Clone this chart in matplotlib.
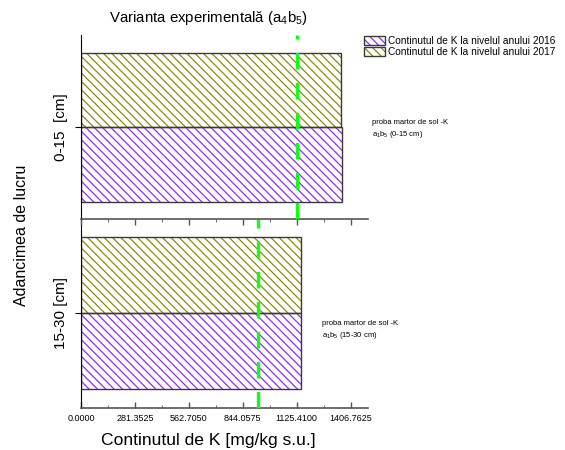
import numpy as np
import matplotlib
matplotlib.use("Agg")
import matplotlib.pyplot as plt
from matplotlib.patches import Patch
from matplotlib.legend_handler import HandlerTuple

plt.rcParams['font.family'] = ['Liberation Sans', 'DejaVu Sans']
plt.rcParams['mathtext.fontset'] = 'custom'
plt.rcParams['mathtext.rm'] = 'Liberation Sans'
plt.rcParams['mathtext.it'] = 'Liberation Sans'
plt.rcParams['hatch.linewidth'] = 0.9

# data
depths = ["0-15  [cm]", "15-30 [cm]"]
k_2016 = [1360, 1150]
k_2017 = [1355, 1148]
martor = [1127, 923]
martor_txt = ["proba martor de sol -K\n$\\mathregular{a_1b_5}$ (0-15 cm)",
              "proba martor de sol -K\n$\\mathregular{a_1b_5}$ (15-30 cm)"]
series_names = ["Continutul de K la nivelul anului 2016",
                "Continutul de K la nivelul anului 2017"]
xticks = [0.0, 281.3525, 562.7050, 844.0575, 1125.4100, 1406.7625]

purple = '#8f2cff'
olive = '#8a8a0a'
green = '#11ff11'
edge = '#3a3a3a'

fig = plt.figure(figsize=(5.65, 4.5), dpi=100)
W, H = 565, 450
left, right = 81 / W, 368 / W
ax_top = fig.add_axes([left, (H - 219) / H, right - left, (219 - 35) / H])
ax_bot = fig.add_axes([left, (H - 408) / H, right - left, (408 - 219) / H])
ax_top.set_zorder(3)
ax_top.patch.set_visible(False)

ylims = [(-1.227, 1.24), (-1.25, 1.237)]


def hbar(ax, val, y0, color):
    ax.barh(y0, val, height=1.0, align='edge', left=0, color='none',
            edgecolor=color, hatch='\\\\\\\\', linewidth=0)
    ax.barh(y0, val, height=1.0, align='edge', left=0, fill=False,
            edgecolor=edge, linewidth=1.0)


for i, ax in enumerate([ax_top, ax_bot]):
    hbar(ax, k_2017[i], 0, olive)
    hbar(ax, k_2016[i], -1, purple)
    ax.axvline(martor[i], color=green, lw=2.4, dashes=(5, 4), zorder=5)
    ax.set_yticks([0])
    ax.set_yticklabels([depths[i]], rotation=90, va='center', fontsize=11)
    ax.set_xticks(xticks)
    ax.set_xticks([x + 140.67625 for x in xticks[:-1]], minor=True)
    ax.set_xlim(0, 1497)
    ax.set_ylim(*ylims[i])
    for s in ['top', 'right']:
        ax.spines[s].set_visible(False)
    ax.spines['left'].set_color('black')
    ax.spines['bottom'].set_color('#555555')
    ax.spines['bottom'].set_linewidth(1.2)
    ax.tick_params(axis='y', direction='out', length=4, pad=5)
    ax.tick_params(axis='x', direction='in', length=4, width=1, colors='#555555', labelcolor='black')
    ax.tick_params(axis='x', which='minor', direction='in', length=2, colors='#555555')

ax_top.tick_params(axis='x', direction='out', labelbottom=False)
ax_top.tick_params(axis='x', which='minor', direction='out')
ax_bot.set_xticklabels(['%.4f' % x for x in xticks], fontsize=6.5)
ax_bot.tick_params(axis='x', pad=4)

# annotations
fig.text(372 / W, 1 - 119 / H, martor_txt[0], fontsize=5.5, va='top', ha='left', linespacing=1.4)
fig.text(322 / W, 1 - 320 / H, martor_txt[1], fontsize=5.5, va='top', ha='left', linespacing=1.4)

fig.text(209 / W, 1 - 18 / H, "Varianta experimentală ($\\mathregular{a_4b_5}$)",
         ha='center', va='center', fontsize=10.8)
fig.text(22 / W, 1 - 235 / H, "Adancimea de lucru", rotation=90,
         ha='center', va='center', fontsize=11.5)
fig.text(208 / W, 1 - 440 / H, "Continutul de K [mg/kg s.u.]",
         ha='center', va='center', fontsize=12.6)

handles = []
for c in [purple, olive]:
    handles.append((Patch(facecolor='white', edgecolor=c, hatch='\\\\\\\\', linewidth=0),
                    Patch(fill=False, edgecolor=edge, linewidth=1.0)))
leg = fig.legend(handles, series_names, loc='upper left',
                 handler_map={tuple: HandlerTuple(ndivide=1, pad=0)},
                 bbox_to_anchor=(364 / W, 1 - 36 / H), frameon=False,
                 fontsize=7.3, handlelength=2.1, handleheight=1.0,
                 handletextpad=0.25, labelspacing=0.05, borderaxespad=0,
                 borderpad=0)

fig.savefig("out.png", dpi=100)
